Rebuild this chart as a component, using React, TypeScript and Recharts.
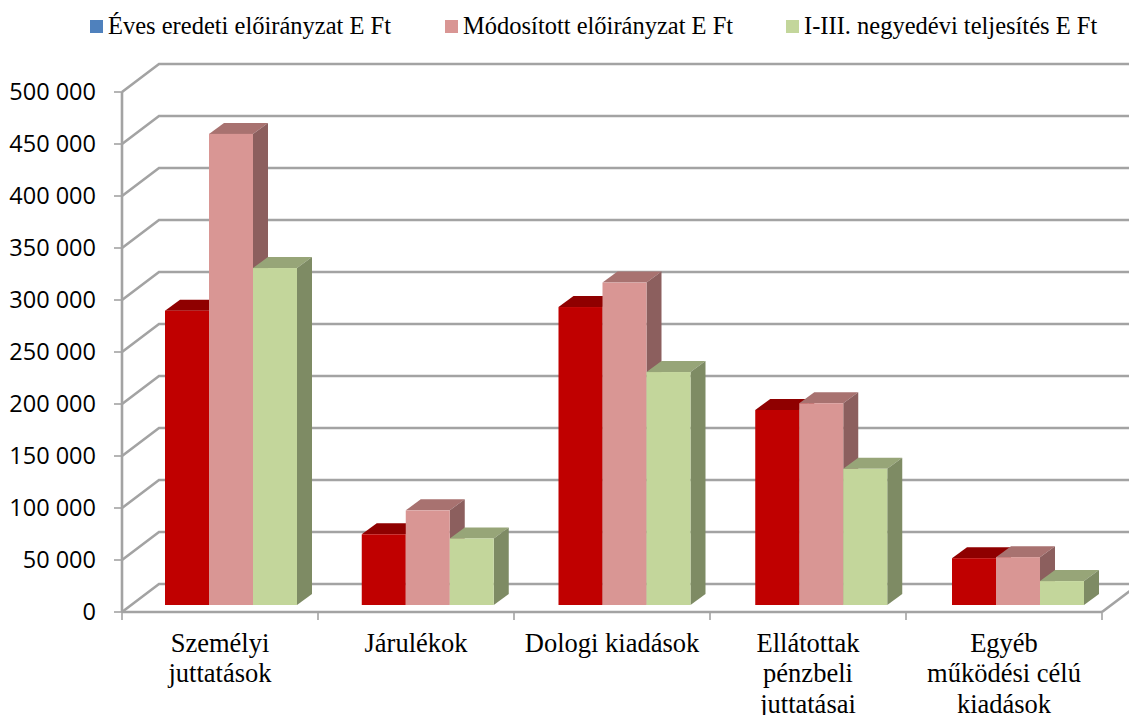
import React from "react";
import { BarChart, Bar, XAxis, YAxis, CartesianGrid, Legend } from "recharts";

const categoryLabels = [
  ["Személyi", "juttatások"],
  ["Járulékok"],
  ["Dologi kiadások"],
  ["Ellátottak", "pénzbeli", "juttatásai"],
  ["Egyéb", "működési célú", "kiadások"],
];
const originalPlan = [283000, 68000, 286500, 187500, 45000];
const modifiedPlan = [453000, 91000, 310000, 194000, 46000];
const performance = [324000, 64000, 224000, 131000, 23000];
const yTicks = [0, 50000, 100000, 150000, 200000, 250000, 300000, 350000, 400000, 450000, 500000];
const seriesNames = ["Éves eredeti előirányzat E Ft", "Módosított előirányzat E Ft", "I-III. negyedévi teljesítés E Ft"];

const data = categoryLabels.map((lines, i) => ({
  name: lines.join(" "),
  lines,
  a: originalPlan[i],
  b: modifiedPlan[i],
  c: performance[i],
}));

const W = 1129, H = 715;
const LEFT = 122, TOP = 92, RIGHT_EDGE = 1102, BOTTOM = 612;
const BAND = (RIGHT_EDGE - LEFT) / data.length;
const WALL_DX = 37, WALL_DY = 28;
const BAR_DX = 11, BAR_DY = 7, DEPTH_X = 15, DEPTH_Y = 11;
const GRID = "#a3a3a3";

const Bar3D = (front: string, top: string, side: string) => (p: any) => {
  const x = p.x + BAR_DX + (p.index * 0.75);
  const y = p.y - BAR_DY;
  const w = p.width, h = p.height;
  return (
    <g>
      <polygon points={`${x},${y} ${x + DEPTH_X},${y - DEPTH_Y} ${x + w + DEPTH_X},${y - DEPTH_Y} ${x + w},${y}`} fill={top} />
      <polygon points={`${x + w},${y} ${x + w + DEPTH_X},${y - DEPTH_Y} ${x + w + DEPTH_X},${y + h - DEPTH_Y} ${x + w},${y + h}`} fill={side} />
      <rect x={x} y={y} width={w} height={h} fill={front} />
    </g>
  );
};

const wallLine = (p: any) => {
  const { x1, y1, x2 } = p;
  const isFloor = Math.abs(y1 - BOTTOM) < 1;
  const pts = [`${x1},${y1}`, `${x1 + WALL_DX},${y1 - WALL_DY}`, `${x2 + WALL_DX},${y1 - WALL_DY}`];
  if (isFloor) pts.push(`${x2},${y1}`);
  return <polyline key={p.key ?? y1} points={pts.join(" ")} fill="none" stroke={GRID} strokeWidth={2.6} />;
};

const XTick = (p: any) => {
  const lines: string[] = categoryLabels[p.index] ?? [];
  return (
    <g>
      {p.index === 0 && <line x1={p.x - BAND / 2} x2={p.x - BAND / 2} y1={BOTTOM} y2={BOTTOM + 8} stroke={GRID} strokeWidth={1.6} />}
      <line x1={p.x + BAND / 2} x2={p.x + BAND / 2} y1={BOTTOM} y2={BOTTOM + 8} stroke={GRID} strokeWidth={1.6} />
      <text textAnchor="middle" fontFamily="'Liberation Serif'" fontSize={26.5} fill="#000">
        {lines.map((l, i) => (
          <tspan key={i} x={p.x} y={651.7 + i * 30.5}>{l}</tspan>
        ))}
      </text>
    </g>
  );
};

const LegendContent = (p: any) => (
  <div style={{ position: "relative", width: W, height: 40, fontFamily: "'Liberation Serif'", fontSize: 24.5, color: "#000" }}>
    {(p.payload ?? []).map((item: any, i: number) => (
      <div key={i} style={{ position: "absolute", left: [90, 445, 786][i], top: 11, display: "flex", alignItems: "center", whiteSpace: "nowrap", lineHeight: "30px" }}>
        <span style={{ display: "inline-block", width: 13, height: 13, background: item.color, marginRight: 5 }} />
        {item.value}
      </div>
    ))}
  </div>
);

export default function App() {
  return (
    <div style={{ position: "absolute", left: 0, top: 0, width: W, height: H, overflow: "hidden", background: "#fff" }}>
      <BarChart
        width={W}
        height={H}
        data={data}
        margin={{ top: TOP, left: 0, right: W - RIGHT_EDGE, bottom: 0 }}
        barGap={0}
        barCategoryGap={32}
        style={{ overflow: "hidden" }}
      >
        <CartesianGrid horizontal={wallLine} vertical={false} />
        <XAxis
          dataKey="name"
          height={H - BOTTOM}
          interval={0}
          tickLine={false}
          axisLine={{ stroke: GRID, strokeWidth: 2.6 }}
          tick={<XTick />}
        />
        <YAxis
          width={LEFT}
          domain={[0, 500000]}
          ticks={yTicks}
          interval={0}
          tickSize={8}
          tickMargin={18}
          tickFormatter={(v: number) => String(v).replace(/\B(?=(\d{3})+$)/g, " ")}
          tick={{ fill: "#000", fontSize: 23.5, fontFamily: "'Open Sans'" }}
          tickLine={{ stroke: GRID, strokeWidth: 1.6 }}
          axisLine={{ stroke: GRID, strokeWidth: 2.6 }}
        />
        <Legend verticalAlign="middle" itemSorter={null} wrapperStyle={{ top: 0, left: 0, width: W }} content={<LegendContent />} />
        <Bar dataKey="a" name={seriesNames[0]} fill="#4f81bd" shape={Bar3D("#c00000", "#8f0000", "#7a0000")} isAnimationActive={false} />
        <Bar dataKey="b" name={seriesNames[1]} fill="#d99694" shape={Bar3D("#d99694", "#a87270", "#8c5f5e")} isAnimationActive={false} />
        <Bar dataKey="c" name={seriesNames[2]} fill="#c3d69b" shape={Bar3D("#c3d69b", "#97a578", "#7e8b64")} isAnimationActive={false} />
      </BarChart>
    </div>
  );
}
